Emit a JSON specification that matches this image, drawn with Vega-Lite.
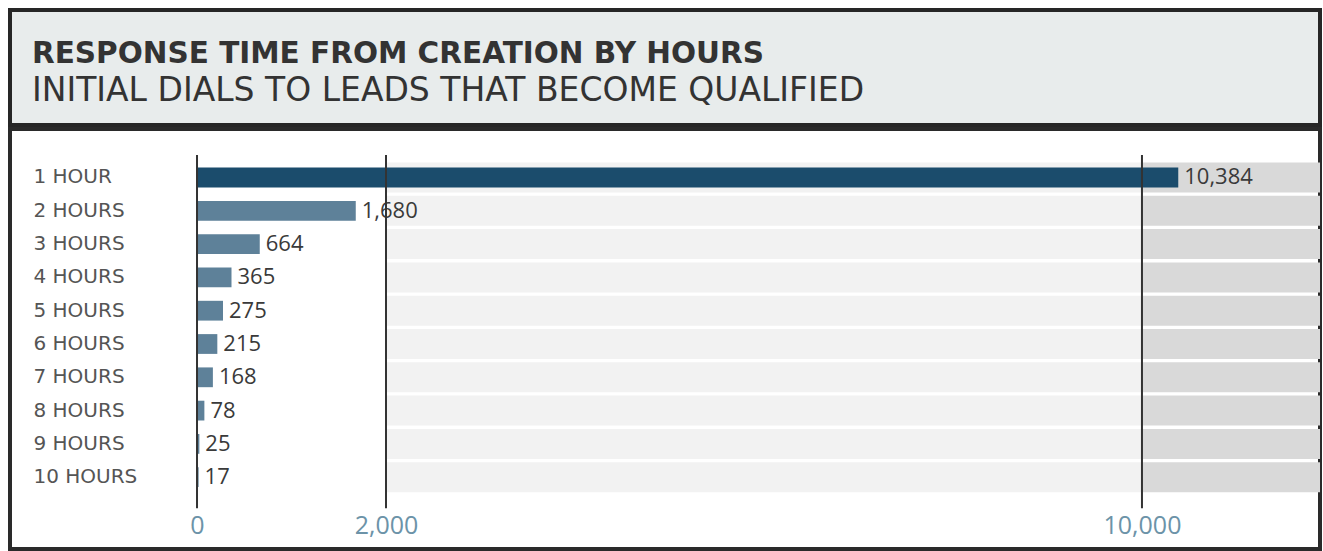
{
  "$schema": "https://vega.github.io/schema/vega-lite/v6.json",
  "background": "white",
  "padding": {"left": 8, "top": 8, "right": 0, "bottom": 0},
  "spacing": 0,
  "config": {"view": {"stroke": null}},
  "vconcat": [
    {
      "width": 1310,
      "height": 115,
      "view": {"fill": "#e8ecec", "stroke": "#262626", "strokeWidth": 4},
      "data": {"values": [
        {"line": "title", "text": "RESPONSE TIME FROM CREATION BY HOURS"},
        {"line": "subtitle", "text": "INITIAL DIALS TO LEADS THAT BECOME QUALIFIED"}
      ]},
      "encoding": {
        "x": {"datum": 0, "type": "quantitative", "scale": {"domain": [0, 1]}, "axis": null},
        "y": {"field": "line", "type": "nominal", "sort": ["title", "subtitle"], "scale": {"type": "point", "padding": 1, "align": 0.691}, "axis": null},
        "text": {"field": "text"}
      },
      "layer": [
        {"transform": [{"filter": "datum.line === 'title'"}],
         "mark": {"type": "text", "align": "left", "baseline": "alphabetic", "dx": 22, "font": "DejaVu Sans", "fontWeight": "bold", "fontSize": 29.5, "color": "#333333"}},
        {"transform": [{"filter": "datum.line === 'subtitle'"}],
         "mark": {"type": "text", "align": "left", "baseline": "alphabetic", "dx": 22, "font": "DejaVu Sans", "fontWeight": "normal", "fontSize": 33, "color": "#333333"}}
      ]
    },
    {
      "width": 1310,
      "height": 420,
      "view": {"fill": "white", "stroke": "#2a2a2a", "strokeWidth": 4},
      "data": {"values": [
        {"hours": "1 HOUR", "count": 10384},
        {"hours": "2 HOURS", "count": 1680},
        {"hours": "3 HOURS", "count": 664},
        {"hours": "4 HOURS", "count": 365},
        {"hours": "5 HOURS", "count": 275},
        {"hours": "6 HOURS", "count": 215},
        {"hours": "7 HOURS", "count": 168},
        {"hours": "8 HOURS", "count": 78},
        {"hours": "9 HOURS", "count": 25},
        {"hours": "10 HOURS", "count": 17}
      ]},
      "encoding": {
        "y": {"field": "hours", "type": "nominal", "sort": null,
              "scale": {"paddingInner": 0.1, "paddingOuter": 0, "range": [33.5, 363.2]},
              "axis": {"title": null, "orient": "left", "domain": false, "ticks": false, "labelAlign": "left", "labelPadding": -23, "labelBaseline": "middle", "labelFont": "DejaVu Sans", "labelFontSize": 20, "labelColor": "#555555"}}
      },
      "layer": [
        {"mark": {"type": "bar", "color": "#f2f2f2"},
         "encoding": {
           "x": {"datum": 2000, "type": "quantitative", "scale": {"domain": [-1979, 11884], "nice": false, "zero": false},
                 "axis": {"values": [0, 2000, 10000], "labelExpr": "format(datum.value, ',')", "grid": false, "domain": false, "ticks": false, "title": null, "labelFont": "Open Sans", "labelFontSize": 25, "labelColor": "#6c93a8", "labelPadding": -24, "labelBaseline": "middle", "labelOverlap": false, "labelFlush": false}},
           "x2": {"datum": 10000}
         }},
        {"mark": {"type": "bar", "color": "#d9d9d9"},
         "encoding": {"x": {"datum": 10000, "type": "quantitative"}, "x2": {"datum": 11884}}},
        {"mark": {"type": "bar", "height": {"band": 0.66}},
         "encoding": {
           "x": {"field": "count", "type": "quantitative"},
           "color": {"condition": {"test": "datum.hours === '1 HOUR'", "value": "#1b4c6c"}, "value": "#5e8199"}
         }},
        {"mark": {"type": "text", "align": "left", "baseline": "middle", "dx": 6, "font": "Open Sans", "fontSize": 22, "color": "#3a3a3a"},
         "encoding": {
           "x": {"field": "count", "type": "quantitative"},
           "text": {"field": "count", "type": "quantitative", "format": ","}
         }},
        {"data": {"values": [{"tick": 0}, {"tick": 2000}, {"tick": 10000}]},
         "mark": {"type": "rule", "color": "#333333", "strokeWidth": 2, "yOffset": -7.5, "y2Offset": 16},
         "encoding": {
           "x": {"field": "tick", "type": "quantitative"},
           "y": {"datum": "1 HOUR", "bandPosition": 0},
           "y2": {"datum": "10 HOURS", "bandPosition": 1}
         }}
      ]
    }
  ]
}
